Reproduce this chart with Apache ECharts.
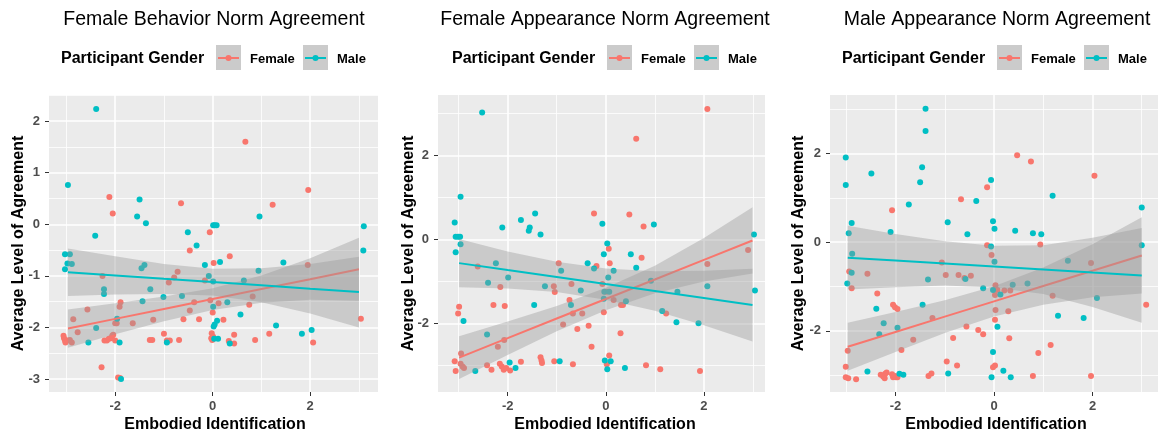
<!DOCTYPE html>
<html><head><meta charset="utf-8">
<script src="https://cdn.jsdelivr.net/npm/echarts@6/dist/echarts.min.js"></script>
<style>html,body{margin:0;padding:0;background:#fff}#c{width:1159px;height:437px}</style>
</head><body><div id="c"></div>
<script>
// ---------- texts ----------
const panelTitles = ['Female Behavior Norm Agreement', 'Female Appearance Norm Agreement', 'Male Appearance Norm Agreement'];
const xAxisTitle = 'Embodied Identification';
const yAxisTitle = 'Average Level of Agreement';
const legendTitle = 'Participant Gender';
const legendLabels = ['Female', 'Male'];

// ---------- tick values ----------
const xMajorTicks = [-2, 0, 2];
const xMinorTicks = [-3, -1, 1, 3];
const p1YMajor = [-3, -2, -1, 0, 1, 2];
const p1YMinor = [-2.5, -1.5, -0.5, 0.5, 1.5, 2.5];
const p23YMajor = [-2, 0, 2];
const p23YMinor = [-3, -1, 1, 3];

// ---------- data: panel 1 (Female Behavior Norm Agreement) ----------
const fbFemale = [[0.67,1.60],[1.96,0.665],[1.23,0.38],[-2.12,0.53],[-2.05,0.21],[-0.65,0.41],[-0.06,-0.155],[-0.47,-0.51],[0.02,-0.75],[0.35,-0.62],[-2.26,-1.0],[-0.72,-0.92],[-0.79,-1.03],[-0.90,-1.13],[-0.16,-1.09],[1.95,-0.79],[0.75,-1.56],[0.82,-1.40],[-1.89,-1.51],[-1.91,-1.60],[-2.57,-1.65],[-2.86,-1.84],[-1.97,-1.92],[-2.0,-1.92],[-1.64,-1.92],[-1.22,-1.85],[-0.47,-1.67],[-0.38,-1.51],[-0.60,-1.84],[-0.28,-1.84],[-0.05,-1.47],[0.0,-1.71],[0.12,-1.53],[0.22,-1.85],[-2.77,-2.09],[-3.06,-2.16],[-3.05,-2.21],[-3.03,-2.25],[-3.02,-2.29],[-2.98,-2.25],[-2.93,-2.24],[-2.89,-2.29],[-2.22,-2.25],[-2.17,-2.25],[-2.13,-2.22],[-2.09,-2.21],[-2.06,-2.16],[-2.04,-2.14],[-2.0,-2.25],[-2.28,-2.77],[-1.94,-2.97],[-1.90,-2.98],[-1.29,-2.24],[-1.24,-2.24],[-1.0,-2.12],[-0.94,-2.25],[-0.88,-2.25],[-0.69,-2.24],[-0.02,-2.11],[-0.03,-2.21],[-0.01,-2.24],[0.01,-2.18],[0.33,-2.26],[0.44,-2.14],[0.44,-2.31],[0.87,-2.24],[1.16,-2.12],[2.06,-2.29],[3.04,-1.83]];
const fbMale = [[-2.39,2.235],[-2.97,0.76],[-3.03,-0.58],[-2.93,-0.58],[-2.98,-0.76],[-2.89,-0.77],[-3.03,-0.87],[-2.41,-0.22],[-1.50,0.48],[-1.55,0.15],[-1.37,0.02],[-1.46,-0.85],[-1.40,-0.79],[-2.23,-1.26],[-2.23,-1.35],[-1.28,-1.26],[-1.44,-1.49],[-1.01,-1.41],[-0.63,-1.39],[-2.39,-2.01],[-2.55,-2.29],[-1.91,-2.29],[-1.88,-3.0],[-1.96,-1.83],[-0.94,-2.29],[-0.51,-0.155],[-0.33,-0.41],[-0.16,-0.79],[-0.08,-1.0],[0.01,-1.11],[0.01,-0.02],[0.04,-0.02],[0.08,-0.02],[0.15,-0.73],[0.01,-1.6],[0.30,-1.51],[0.02,-1.98],[0.04,-1.94],[0.09,-1.87],[0.11,-2.22],[0.03,-2.22],[0.35,-2.31],[0.57,-1.75],[0.64,-1.09],[0.96,0.15],[0.94,-0.90],[1.45,-0.74],[1.30,-1.96],[1.83,-2.12],[2.03,-2.05],[3.10,-0.04],[3.09,-0.51]];
// fit rows: [x, fitted, lower, upper]
const fbFemaleFit = [[-2.97,-2.02,-2.39,-1.65],[-2,-1.833,-2.13,-1.53],[-1,-1.64,-1.88,-1.40],[0,-1.448,-1.66,-1.24],[1,-1.255,-1.52,-0.99],[2,-1.063,-1.46,-0.66],[3.0,-0.87,-1.48,-0.26]];
const fbMaleFit = [[-2.97,-0.93,-1.39,-0.47],[-2,-0.99,-1.36,-0.62],[-1,-1.056,-1.35,-0.77],[0,-1.12,-1.38,-0.86],[1,-1.18,-1.51,-0.85],[2,-1.25,-1.73,-0.77],[3.0,-1.31,-2.0,-0.63]];

// ---------- data: panel 2 (Female Appearance Norm Agreement) ----------
const faFemale = [[2.07,3.11],[0.62,2.40],[-0.24,0.62],[0.48,0.60],[0.77,0.31],[0.73,-0.43],[0.06,-0.22],[0.08,-0.56],[-0.19,-0.63],[-0.96,-0.56],[-2.61,-0.64],[-2.15,-1.13],[-2.29,-1.56],[-2.06,-1.58],[-2.99,-1.60],[-3.01,-1.76],[-1.06,-1.11],[-1.04,-1.25],[-0.74,-1.44],[-0.70,-1.06],[-0.67,-1.76],[-0.48,-1.76],[-0.07,-1.06],[0.01,-1.24],[0.16,-1.44],[-0.04,-1.73],[0.31,-1.56],[0.35,-1.56],[1.23,-1.76],[2.90,-0.25],[2.07,-0.58],[-2.07,-2.39],[-2.20,-2.55],[-2.95,-2.71],[-0.87,-2.02],[-0.58,-2.13],[-0.35,-2.05],[-0.29,-2.55],[0.30,-2.23],[0.07,-2.76],[0.02,-2.97],[-3.08,-2.90],[-3.06,-3.13],[-2.96,-2.96],[-2.92,-3.02],[-2.89,-3.06],[-2.42,-2.99],[-2.33,-3.10],[-2.16,-2.96],[-2.12,-3.02],[-2.08,-3.10],[-2.03,-3.06],[-1.95,-3.12],[-1.73,-2.91],[-1.33,-2.80],[-1.31,-2.88],[-1.30,-2.94],[-1.05,-2.90],[-0.67,-2.97],[0.82,-2.99],[1.11,-3.09],[1.92,-3.13]];
const faMale = [[-2.52,3.03],[-2.96,1.02],[-3.08,0.41],[-3.06,0.07],[-3.01,0.07],[-2.97,0.07],[-2.96,-0.11],[-3.06,-0.30],[-2.90,-1.94],[-2.11,0.29],[-1.73,0.47],[-1.55,0.29],[-1.57,0.21],[-1.44,0.62],[-1.33,0.12],[-2.24,-0.56],[-2.40,-1.03],[-1.99,-0.90],[-2.42,-2.26],[-1.46,-1.56],[-1.24,-1.11],[-0.91,-0.74],[-0.71,-1.56],[-0.51,-1.21],[-0.37,-0.56],[-0.24,-0.69],[-0.07,0.38],[-0.04,-0.35],[0.03,-0.09],[0.05,-0.90],[0.16,-0.74],[-0.03,-1.24],[0.07,-1.24],[-0.04,-1.41],[0.41,-1.47],[0.51,-0.35],[0.62,-0.67],[0.92,-0.98],[0.98,0.36],[1.15,-1.70],[1.44,-1.97],[1.46,-1.24],[1.89,-1.99],[2.07,-1.11],[3.02,0.12],[3.04,-1.21],[-2.66,-3.13],[-1.96,-2.93],[-1.84,-3.06],[-0.94,-2.90],[-0.02,-2.88],[0.10,-2.90],[0.03,-3.09],[0.39,-3.06]];
const faFemaleFit = [[-2.99,-2.81,-3.32,-2.30],[-2,-2.348,-2.75,-1.95],[-1,-1.88,-2.18,-1.58],[0,-1.415,-1.685,-1.145],[1,-0.95,-1.28,-0.62],[2,-0.482,-1.0,0.04],[2.99,-0.02,-0.81,0.77]];
const faMaleFit = [[-2.99,-0.56,-1.135,0.015],[-2,-0.725,-1.165,-0.285],[-1,-0.89,-1.25,-0.53],[0,-1.06,-1.43,-0.69],[1,-1.225,-1.695,-0.755],[2,-1.39,-2.04,-0.74],[2.99,-1.56,-2.425,-0.695]];

// ---------- data: panel 3 (Male Appearance Norm Agreement) ----------
const maFemale = [[0.47,1.96],[0.75,1.82],[2.04,1.50],[-0.14,1.24],[-0.67,0.97],[-2.07,0.72],[-0.14,-0.07],[-0.05,-0.29],[0.94,-0.05],[1.97,-0.47],[-1.06,-0.46],[-0.98,-0.74],[-0.72,-0.74],[-0.60,-0.81],[-0.47,-0.76],[-2.57,-0.71],[-2.94,-0.66],[-2.89,-1.04],[-2.37,-1.16],[0.03,-0.97],[0.07,-1.08],[0.02,-1.19],[0.21,-1.09],[0.33,-1.09],[1.19,-1.21],[3.09,-1.41],[-2.05,-1.41],[-2.01,-1.47],[-1.96,-1.51],[-1.25,-1.71],[0.03,-1.53],[0.29,-1.56],[-0.56,-1.90],[-0.32,-1.98],[-0.22,-2.08],[0.02,-1.75],[-0.83,-2.16],[0.31,-2.17],[-1.64,-2.20],[-1.88,-2.43],[-2.97,-2.45],[-3.01,-2.81],[-3.01,-3.05],[-2.96,-3.07],[-2.80,-3.09],[-2.30,-2.99],[-2.25,-3.03],[-2.21,-2.97],[-2.18,-2.94],[-2.22,-3.07],[-2.05,-3.05],[-2.01,-3.02],[-1.99,-3.05],[-2.07,-2.98],[-1.96,-3.05],[-1.33,-3.02],[-1.27,-2.96],[-0.96,-2.69],[-0.75,-2.78],[-0.02,-2.82],[0.02,-2.78],[0.90,-2.50],[1.15,-2.32],[0.79,-3.02],[1.97,-3.02]];
const maMale = [[-1.39,3.01],[-1.39,2.51],[-3.01,1.91],[-3.01,1.29],[-2.49,1.55],[-1.46,1.69],[-1.50,1.35],[-1.73,0.85],[-2.89,0.43],[-2.95,0.20],[-2.88,-0.26],[-2.89,-0.69],[-2.98,-0.93],[-2.10,0.23],[-0.94,0.45],[-1.34,-0.84],[-1.45,-1.41],[-2.39,-1.50],[-2.24,-1.83],[-2.33,-2.08],[-1.96,-1.93],[-0.36,0.93],[-0.54,0.18],[-0.06,1.40],[-0.02,0.47],[0.01,0.30],[-0.06,-0.10],[0.01,-0.44],[-0.58,-0.83],[-0.22,-1.04],[-0.02,-1.08],[0.13,-1.18],[0.07,-1.91],[-0.02,-2.48],[-0.05,-3.05],[0.19,-2.90],[0.34,-3.05],[-2.57,-2.92],[-1.92,-2.97],[-1.84,-2.99],[-0.93,-2.96],[0.43,0.26],[0.38,-0.96],[0.68,-0.93],[0.79,0.20],[0.96,0.18],[1.19,1.05],[1.30,-1.66],[1.50,-0.42],[1.82,-1.71],[2.09,-1.26],[3.0,0.78],[3.0,-0.07]];
const maFemaleFit = [[-2.97,-2.36,-2.90,-1.82],[-2,-2.025,-2.475,-1.575],[-1,-1.68,-2.05,-1.31],[0,-1.335,-1.675,-0.995],[1,-0.99,-1.41,-0.57],[2,-0.645,-1.245,-0.045],[3.0,-0.30,-1.16,0.56]];
const maMaleFit = [[-2.97,-0.35,-1.07,0.37],[-2,-0.415,-1.015,0.185],[-1,-0.482,-0.98,0.02],[0,-0.55,-1.02,-0.08],[1,-0.617,-1.17,-0.07],[2,-0.684,-1.46,0.10],[3.0,-0.75,-1.82,0.32]];

// ---------- styles / layout ----------
const FEMALE_COLOR = '#F8766D', MALE_COLOR = '#00BFC4';
const FONT = "'Liberation Sans', Arial, Helvetica, sans-serif";
const panels = [
  {left: 49, width: 329, xr: [-3.358, 3.391], yr: [-3.25, 2.506], yMajor: p1YMajor, yMinor: p1YMinor, fem: fbFemale, male: fbMale, femFit: fbFemaleFit, maleFit: fbMaleFit, titleX: 214, legendX: 61, yTitleX: 19, xTitleX: 215},
  {left: 438, width: 327, xr: [-3.42, 3.245], yr: [-3.63, 3.445], yMajor: p23YMajor, yMinor: p23YMinor, fem: faFemale, male: faMale, femFit: faFemaleFit, maleFit: faMaleFit, titleX: 605, legendX: 452, yTitleX: 409, xTitleX: 605},
  {left: 830, width: 328, xr: [-3.33, 3.33], yr: [-3.38, 3.32], yMajor: p23YMajor, yMinor: p23YMinor, fem: maFemale, male: maMale, femFit: maFemaleFit, maleFit: maMaleFit, titleX: 997, legendX: 842, yTitleX: 799, xTitleX: 996}
];
const TOP = 95, HEIGHT = 297;

const grids = [], xAxes = [], yAxes = [], series = [], graphics = [];
const labelStyle = {color: '#4D4D4D', fontSize: 13, fontWeight: 'bold', fontFamily: FONT};

function bandSeries(fit, xi, yi, z) {
  return {
    type: 'custom', xAxisIndex: xi, yAxisIndex: yi, z: z, silent: true, clip: true,
    data: fit.map(r => [r[0], r[2], r[3]]),
    encode: {x: 0, y: [1, 2]},
    renderItem: function (params, api) {
      if (params.dataIndex !== 0) return null;
      const lower = fit.map(r => api.coord([r[0], r[2]]));
      const upper = fit.map(r => api.coord([r[0], r[3]])).reverse();
      return {type: 'polygon', shape: {points: lower.concat(upper)}, style: {fill: 'rgba(153,153,153,0.4)', stroke: null}};
    }
  };
}

panels.forEach((p, i) => {
  grids.push({left: p.left, top: TOP, width: p.width, height: HEIGHT, show: true, backgroundColor: '#EBEBEB', borderWidth: 0, containLabel: false});
  // major x axis
  xAxes.push({type: 'value', gridIndex: i, min: p.xr[0], max: p.xr[1],
    axisLine: {show: false, onZero: false},
    axisTick: {show: true, length: 4, lineStyle: {color: '#333333', width: 1}, customValues: xMajorTicks},
    axisLabel: Object.assign({show: true, margin: 8, customValues: xMajorTicks}, labelStyle),
    splitLine: {show: true, lineStyle: {color: '#FFFFFF', width: 1.6}}});
  // minor x axis
  xAxes.push({type: 'value', gridIndex: i, min: p.xr[0], max: p.xr[1], position: 'bottom',
    axisLine: {show: false, onZero: false},
    axisTick: {show: false, customValues: xMinorTicks},
    axisLabel: {show: false, customValues: xMinorTicks},
    splitLine: {show: true, lineStyle: {color: '#FFFFFF', width: 0.8}}});
  yAxes.push({type: 'value', gridIndex: i, min: p.yr[0], max: p.yr[1],
    axisLine: {show: false, onZero: false},
    axisTick: {show: true, length: 4, lineStyle: {color: '#333333', width: 1}, customValues: p.yMajor},
    axisLabel: Object.assign({show: true, margin: 9, customValues: p.yMajor}, labelStyle),
    splitLine: {show: true, lineStyle: {color: '#FFFFFF', width: 1.6}}});
  yAxes.push({type: 'value', gridIndex: i, min: p.yr[0], max: p.yr[1], position: 'left',
    axisLine: {show: false, onZero: false},
    axisTick: {show: false, customValues: p.yMinor},
    axisLabel: {show: false, customValues: p.yMinor},
    splitLine: {show: true, lineStyle: {color: '#FFFFFF', width: 0.8}}});

  const xi = 2 * i, yi = 2 * i;
  series.push({type: 'scatter', xAxisIndex: xi, yAxisIndex: yi, z: 2, symbolSize: 6, data: p.fem, itemStyle: {color: FEMALE_COLOR, opacity: 1}, silent: true});
  series.push({type: 'scatter', xAxisIndex: xi, yAxisIndex: yi, z: 2, symbolSize: 6, data: p.male, itemStyle: {color: MALE_COLOR, opacity: 1}, silent: true});
  series.push(bandSeries(p.femFit, xi, yi, 3));
  series.push({type: 'line', xAxisIndex: xi, yAxisIndex: yi, z: 4, symbol: 'none', data: p.femFit.map(r => [r[0], r[1]]), lineStyle: {color: FEMALE_COLOR, width: 2}, silent: true});
  series.push(bandSeries(p.maleFit, xi, yi, 5));
  series.push({type: 'line', xAxisIndex: xi, yAxisIndex: yi, z: 6, symbol: 'none', data: p.maleFit.map(r => [r[0], r[1]]), lineStyle: {color: MALE_COLOR, width: 2}, silent: true});

  // title
  graphics.push({type: 'text', x: p.titleX, y: 20, style: {text: panelTitles[i], fill: '#000', font: '19.5px ' + FONT, textAlign: 'center', textVerticalAlign: 'middle'}});
  // legend
  const L = p.legendX, LY = 59;
  graphics.push({type: 'text', x: L, y: LY, style: {text: legendTitle, fill: '#000', font: 'bold 16px ' + FONT, textAlign: 'left', textVerticalAlign: 'middle'}});
  [[155, FEMALE_COLOR, 189, legendLabels[0]], [242, MALE_COLOR, 276, legendLabels[1]]].forEach(k => {
    const kx = L + k[0];
    graphics.push({type: 'rect', shape: {x: kx, y: 45, width: 25, height: 25}, style: {fill: '#CBCBCB'}});
    graphics.push({type: 'line', shape: {x1: kx + 2, y1: 58, x2: kx + 23, y2: 58}, style: {stroke: k[1], lineWidth: 2}});
    graphics.push({type: 'circle', shape: {cx: kx + 12.5, cy: 58, r: 3}, style: {fill: k[1]}});
    graphics.push({type: 'text', x: L + k[2], y: LY, style: {text: k[3], fill: '#000', font: 'bold 13px ' + FONT, textAlign: 'left', textVerticalAlign: 'middle'}});
  });
  // axis titles
  graphics.push({type: 'text', x: p.xTitleX, y: 425, style: {text: xAxisTitle, fill: '#000', font: 'bold 16px ' + FONT, textAlign: 'center', textVerticalAlign: 'middle'}});
  graphics.push({type: 'text', x: p.yTitleX, y: TOP + HEIGHT / 2, rotation: Math.PI / 2, style: {text: yAxisTitle, fill: '#000', font: 'bold 16px ' + FONT, textAlign: 'center', textVerticalAlign: 'middle'}});
});

const chart = echarts.init(document.getElementById('c'), null, {renderer: 'canvas'});
chart.setOption({
  animation: false,
  backgroundColor: '#FFFFFF',
  grid: grids, xAxis: xAxes, yAxis: yAxes, series: series,
  graphic: {elements: graphics}
});
</script>
</body></html>
